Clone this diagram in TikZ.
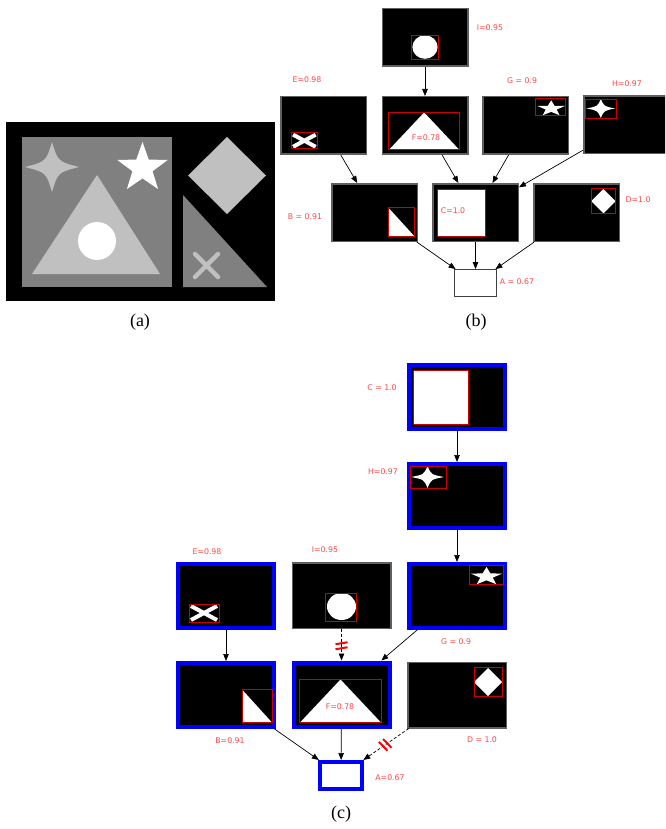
\documentclass[tikz,border=0pt]{standalone}
\usepackage{fontspec}
\setmainfont{Liberation Serif}
\newfontfamily\labelfont{DejaVu Sans}
\usetikzlibrary{arrows.meta, decorations.markings, calc}

\definecolor{scorered}{RGB}{255,70,70}
\definecolor{roired}{RGB}{205,0,0}
\definecolor{framegray}{RGB}{95,95,95}
\definecolor{midgray}{RGB}{128,128,128}
\definecolor{shapegray}{RGB}{192,192,192}

% shapes of the scene (colour, centre x, centre y, radius x, radius y)
\newcommand{\fourstar}[5]{%
  \fill[#1] (#2,#3-#5)
    .. controls (#2+0.22*#4,#3-0.22*#5) .. (#2+#4,#3)
    .. controls (#2+0.22*#4,#3+0.22*#5) .. (#2,#3+#5)
    .. controls (#2-0.22*#4,#3+0.22*#5) .. (#2-#4,#3)
    .. controls (#2-0.22*#4,#3-0.22*#5) .. (#2,#3-#5) -- cycle;}
\newcommand{\fivestar}[5]{%
  \fill[#1] plot[samples at={0,...,9}, variable=\k]
    ({#2+#4*(1-0.6*mod(\k,2))*cos(-90+36*\k)},{#3+#5*(1-0.6*mod(\k,2))*sin(-90+36*\k)}) -- cycle;}
\newcommand{\roi}[4]{\draw[roired, line width=1pt] (#1,#2) rectangle (#3,#4);}

% contents of one thumbnail, relative to its centre
\newcommand{\sceneE}{\draw[white, line width=4pt] (-35,10.5) -- (-9,24.5) (-35,24.5) -- (-9,10.5); \roi{-37}{8.5}{-7}{26.5}}
\newcommand{\sceneI}{\fill[white] (0,11) ellipse (14.5 and 13.5); \roi{-16}{-2.5}{15}{25.5}}
\newcommand{\sceneG}{\fivestar{white}{29.5}{-19.5}{16.5}{9.5} \roi{12}{-30.5}{46}{-11.5}}
\newcommand{\sceneH}{\fourstar{white}{-29.5}{-19}{16.5}{11} \roi{-47}{-29.5}{-11}{-7.5}}
\newcommand{\sceneC}{\filldraw[fill=white, draw=roired, line width=1pt] (-44,-26.5) rectangle (11,27.5);}
\newcommand{\sceneB}{\fill[white] (16,-5.5) -- (16,27.5) -- (46,27.5) -- cycle; \roi{16}{-5.5}{46}{27.5}}
\newcommand{\sceneF}{\fill[white] (-1,-15) -- (39,27.5) -- (-41,27.5) -- cycle; \roi{-42}{-15.5}{40}{27.5}}
\newcommand{\sceneD}{\fill[white] (31,-27) -- (45,-13) -- (31,1) -- (17,-13) -- cycle; \roi{17}{-27.5}{45}{1.5}}

\begin{document}
\begin{tikzpicture}[
    x=1pt, y=-1pt,
    thumbb/.style={rectangle, fill=black, draw=framegray, line width=1.5pt, minimum width=85.5pt, minimum height=57.5pt, inner sep=0pt},
    thumbc/.style={thumbb, minimum width=98.5pt, minimum height=65.5pt},
    chosen/.style={draw=blue, line width=4pt, minimum width=96pt, minimum height=64pt},
    outb/.style={rectangle, fill=white, draw=black!75, line width=0.8pt, minimum width=42pt, minimum height=27pt, inner sep=0pt},
    outc/.style={outb, draw=blue, line width=4pt},
    score/.style={font=\labelfont\fontsize{7.8}{9}\selectfont, text=scorered, inner sep=1pt},
    caption/.style={font=\fontsize{18}{20}\selectfont, inner sep=0pt},
    link/.style={-{Triangle[length=7pt,width=5.5pt]}, line width=0.7pt},
    cutlink/.style={link, dash pattern=on 3pt off 2pt, postaction={decorate},
      decoration={markings, mark=at position #1 with {\draw[red, solid, -, line width=2pt] (-2.5,-6) -- (-0.5,6) (2.5,-6) -- (4.5,6);}}}
]
\clip (0,0) rectangle (665,829);

% ===== (a) the scene =====
\fill[black] (6,122) rectangle (275,301);
\fill[midgray] (22,137) rectangle (172,287);
\fourstar{shapegray}{52}{167}{27}{25}
\fivestar{white}{142.5}{168}{26.5}{26}
\fill[shapegray] (97,175) -- (160,274) -- (32,274) -- cycle;
\fill[white] (97,241) circle (19);
\fill[shapegray] (227,137) -- (266,175.5) -- (227,214) -- (188,175.5) -- cycle;
\fill[midgray] (183,195) -- (183,287) -- (267,287) -- cycle;
\draw[shapegray, line width=4.5pt, line cap=round] (195,254) -- (218,277) (218,254) -- (195,277);
\node[caption] (capa) at (140,322) {(a)};

% ===== (b) all parts =====
\node[thumbb] (Ib) at (425,37.5) {};
\node[thumbb] (Eb) at (323.5,125.5) {};
\node[thumbb] (Fb) at (425,125.5) {};
\node[thumbb] (Gb) at (525.5,125.5) {};
\node[thumbb] (Hb) at (626.5,125) {};
\node[thumbb] (Bb) at (374.5,212.5) {};
\node[thumbb] (Cb) at (475.5,212.5) {};
\node[thumbb] (Db) at (576.5,212.5) {};
\node[outb] (Ab) at (475.5,283) {};

\foreach \n/\scene in {Ib/\sceneI, Eb/\sceneE, Fb/\sceneF, Gb/\sceneG, Hb/\sceneH, Bb/\sceneB, Cb/\sceneC, Db/\sceneD} {
  \begin{scope}[shift={(\n.center)}, scale=0.87]
    \scene
  \end{scope}
}

\node[score] (sIb) at (490,28) {I=0.95};
\node[score] (sEb) at (307,80) {E=0.98};
\node[score] (sGb) at (522,81) {G = 0.9};
\node[score] (sHb) at (627,84) {H=0.97};
\node[score] (sFb) at (426,138) {F=0.78};
\node[score] (sBb) at (305,217) {B = 0.91};
\node[score] (sCb) at (453,211) {C=1.0};
\node[score] (sDb) at (638,200) {D=1.0};
\node[score] (sAb) at (517,282) {A = 0.67};

\draw[link] (Ib) -- (Fb);
\draw[link] (Eb) -- (Bb);
\draw[link] (Fb) -- (Cb);
\draw[link] (Gb) -- (Cb);
\draw[link] (Hb) -- (Cb);
\draw[link] (Bb) -- (Ab);
\draw[link] (Cb) -- (Ab);
\draw[link] (Db) -- (Ab);
\node[caption] (capb) at (476,322) {(b)};

% ===== (c) chosen parts =====
\node[thumbc, chosen] (Cc) at (457,397) {};
\node[thumbc, chosen] (Hc) at (457,496) {};
\node[thumbc, chosen] (Gc) at (457,596) {};
\node[thumbc, chosen] (Ec) at (226,595.5) {};
\node[thumbc] (Ic) at (341.5,595.5) {};
\node[thumbc, chosen] (Bc) at (226,695) {};
\node[thumbc, chosen] (Fc) at (341.5,694.5) {};
\node[thumbc] (Dc) at (457,695) {};
\node[outc] (Ac) at (341,775.5) {};

\foreach \n/\scene in {Ic/\sceneI, Ec/\sceneE, Fc/\sceneF, Gc/\sceneG, Hc/\sceneH, Bc/\sceneB, Cc/\sceneC, Dc/\sceneD} {
  \begin{scope}[shift={(\n.center)}]
    \scene
  \end{scope}
}

\node[score] (sCc) at (382,388) {C = 1.0};
\node[score] (sHc) at (383,472) {H=0.97};
\node[score] (sEc) at (207,552) {E=0.98};
\node[score] (sIc) at (325,550) {I=0.95};
\node[score] (sGc) at (456,642) {G = 0.9};
\node[score] (sFc) at (340,707) {F=0.78};
\node[score] (sBc) at (230,741) {B=0.91};
\node[score] (sDc) at (482,740) {D = 1.0};
\node[score] (sAc) at (390,778) {A=0.67};

\draw[link] (Cc) -- (Hc);
\draw[link] (Hc) -- (Gc);
\draw[link] (Ec) -- (Bc);
\draw[cutlink=0.5] (Ic) -- (Fc);
\draw[link] (Gc) -- (Fc);
\draw[link] (Bc) -- (Ac);
\draw[link] (Fc) -- (Ac);
\draw[cutlink=0.5] (Dc) -- (Ac);
\node[caption] (capc) at (341,814) {(c)};

\end{tikzpicture}
\end{document}
